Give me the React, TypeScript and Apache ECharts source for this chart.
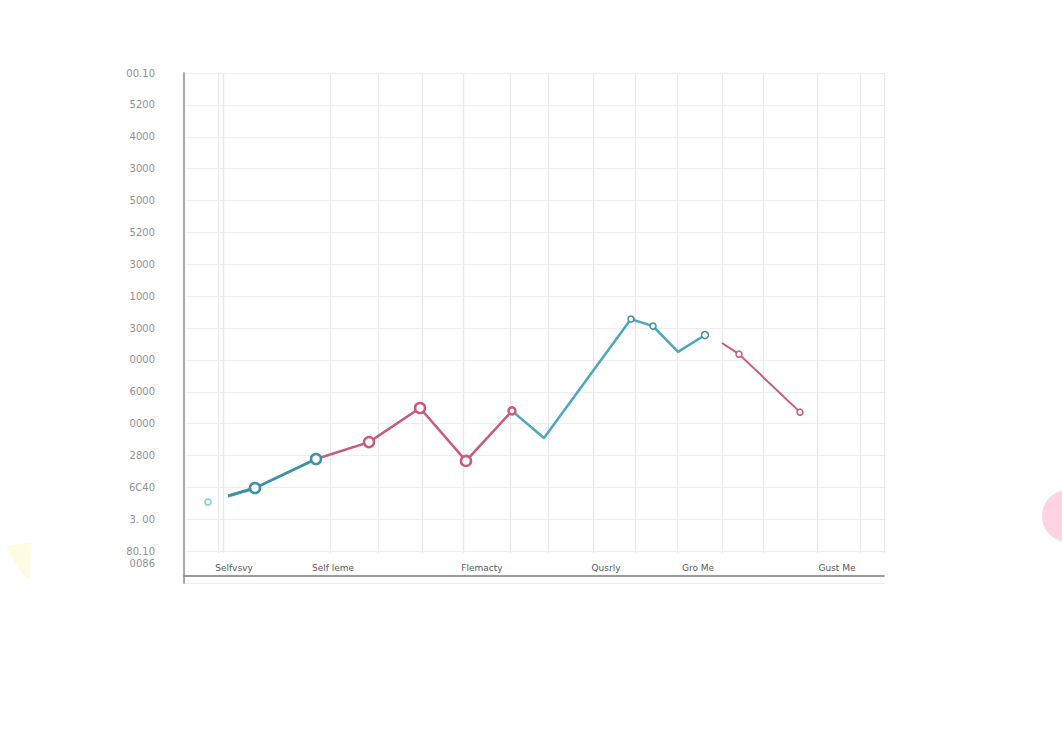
import React, { useEffect, useRef } from "react";
import * as echarts from "echarts";

// y tick labels, from value 0 (bottom) to value 16 (top)
const yTickLabels = [
  "0086", "80.10", "3. 00", "6C40", "2800", "0000", "6000", "0000", "3000",
  "1000", "3000", "5200", "5000", "3000", "4000", "5200", "00.10",
];

// x category labels and their positions on the x scale
const xLabelNames = ["Selfvsvy", "Self leme", "Flemacty", "Qusrly", "Gro Me", "Gust Me"];
const xLabelPos = [5.0, 14.9, 29.8, 42.2, 51.4, 65.3];

// vertical grid lines positions and their vertical extent
const xGridPos = [3.4, 3.9, 14.6, 19.4, 23.8, 27.9, 32.6, 36.4, 40.9, 45.1, 49.3, 53.8, 57.9, 63.3, 67.6, 70];
const xGridTop = 16;
const xGridBottom = 0.95;

// series values [x, y]
const tealStart: [number, number][] = [[4.4, 2.73], [7.1, 2.98], [13.2, 3.89]];
const pinkMid: [number, number][] = [[13.2, 3.89], [18.5, 4.42], [23.6, 5.49], [28.2, 3.83], [32.8, 5.4]];
const tealRise: [number, number][] = [[32.8, 5.4], [36.0, 4.55], [44.7, 8.28], [46.9, 8.06], [49.4, 7.25], [52.1, 7.78]];
const pinkEnd: [number, number][] = [[53.8, 7.53], [55.5, 7.18], [61.6, 5.36]];
const strayPoint: [number, number][] = [[2.4, 2.54]];

const TEAL = "#3f8fa6";
const TEAL_LIGHT = "#4aa7bd";
const PINK = "#c95a7e";

export default function App() {
  const ref = useRef<HTMLDivElement>(null);
  useEffect(() => {
    if (!ref.current) return;
    const chart = echarts.init(ref.current, undefined, { renderer: "svg" });
    const pt = (arr: [number, number][], sizes: number[]) =>
      arr.map((v, i) => ({ value: v, symbolSize: sizes[i], symbol: sizes[i] ? "circle" : "none" }));
    chart.setOption({
      animation: false,
      backgroundColor: "#ffffff",
      grid: { left: 184, top: 73, width: 700, height: 510, containLabel: false },
      xAxis: {
        type: "value",
        min: 0,
        max: 70,
        offset: -7,
        axisLine: { show: true, onZero: false, lineStyle: { color: "#7a7a7a", width: 1.5 } },
        axisTick: { show: false },
        splitLine: { show: false },
        axisLabel: {
          inside: true,
          margin: 4,
          customValues: xLabelPos,
          color: "#5a5a5a",
          fontSize: 9,
          fontFamily: "DejaVu Sans",
          formatter: (v: number) => {
            let best = 0;
            for (let i = 1; i < xLabelPos.length; i++) {
              if (Math.abs(xLabelPos[i] - v) < Math.abs(xLabelPos[best] - v)) best = i;
            }
            return xLabelNames[best];
          },
        },
      },
      yAxis: {
        type: "value",
        min: 0,
        max: 16,
        interval: 1,
        axisLine: { show: true, lineStyle: { color: "#a8a8a8", width: 2 } },
        axisTick: { show: false },
        splitLine: { show: true, lineStyle: { color: "#ededed", width: 1 } },
        axisLabel: {
          margin: 29,
          color: "#909090",
          fontSize: 10,
          fontFamily: "DejaVu Sans",
          formatter: (v: number) => (v === 0 ? "{s|" + yTickLabels[0] + "}" : yTickLabels[v]),
          rich: {
            s: { color: "#909090", fontSize: 10, fontFamily: "DejaVu Sans", padding: [0, 0, 40, 0] },
          },
        },
      },
      series: [
        {
          type: "line",
          data: [],
          z: 0,
          silent: true,
          markLine: {
            z: 0,
            silent: true,
            symbol: ["none", "none"],
            label: { show: false },
            lineStyle: { type: "solid", color: "#e8e8e8", width: 1.3 },
            emphasis: { disabled: true },
            data: xGridPos.map((x) => [{ coord: [x, xGridTop] }, { coord: [x, xGridBottom] }]),
          },
        },
        {
          type: "line",
          z: 4,
          data: pt(tealStart, [0, 10, 10]),
          lineStyle: { color: TEAL, width: 3 },
          itemStyle: { color: "#ffffff", borderColor: TEAL, borderWidth: 2.5 },
        },
        {
          type: "line",
          z: 3,
          data: pt(pinkMid, [0, 10, 10, 10, 7]),
          lineStyle: { color: PINK, width: 2.5 },
          itemStyle: { color: "#ffffff", borderColor: PINK, borderWidth: 2.5 },
        },
        {
          type: "line",
          z: 3,
          data: pt(tealRise, [0, 0, 6, 6, 0, 7]),
          lineStyle: { color: TEAL_LIGHT, width: 2.5 },
          itemStyle: { color: "#ffffff", borderColor: TEAL, borderWidth: 1.5 },
        },
        {
          type: "line",
          z: 3,
          data: pt(pinkEnd, [0, 6, 6]),
          lineStyle: { color: PINK, width: 2 },
          itemStyle: { color: "#ffffff", borderColor: PINK, borderWidth: 1.5 },
        },
        {
          type: "scatter",
          z: 4,
          data: strayPoint,
          symbol: "circle",
          symbolSize: 6,
          itemStyle: { color: "#ffffff", borderColor: "#7cc6cf", borderWidth: 2 },
        },
      ],
      graphic: [
        {
          type: "circle",
          shape: { cx: 1068, cy: 516, r: 26 },
          style: { fill: "#ffd3e4" },
          silent: true,
        },
        {
          type: "polygon",
          shape: { points: [[6, 546], [32, 542], [30, 580], [22, 574]] },
          style: { fill: "#fffbe2" },
          silent: true,
        },
      ],
    });
    return () => chart.dispose();
  }, []);
  return (
    <div
      ref={ref}
      style={{ position: "fixed", left: 0, top: 0, width: 1062, height: 729 }}
    />
  );
}
